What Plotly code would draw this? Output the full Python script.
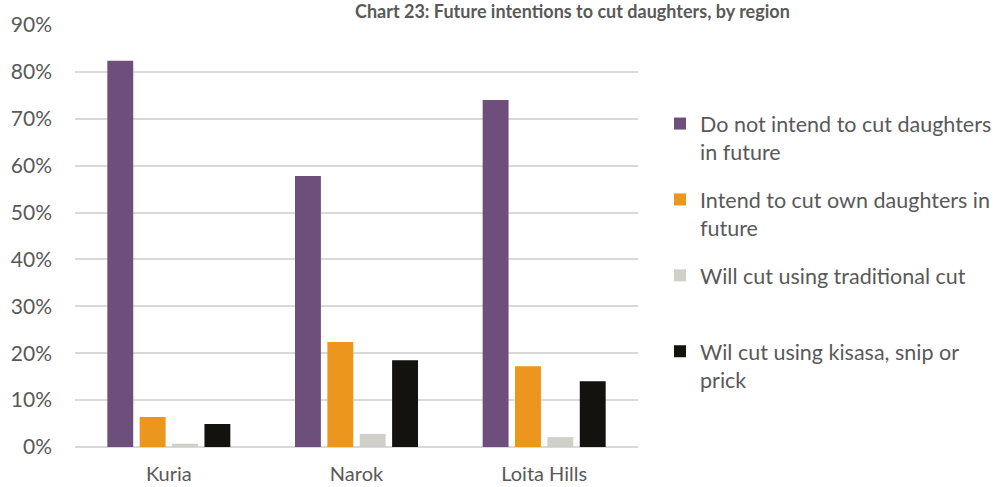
import plotly.graph_objects as go

regions = ["Kuria", "Narok", "Loita Hills"]
series_names = [
    "Do not intend to cut daughters<br>in future",
    "Intend to cut own daughters in<br>future",
    "Will cut using traditional cut<br> ",
    "Wil cut using kisasa, snip or<br>prick",
]
do_not_intend = [0.824, 0.578, 0.740]
intend_own = [0.064, 0.224, 0.172]
traditional = [0.007, 0.028, 0.021]
kisasa = [0.049, 0.185, 0.140]
colors = ["#6E4E7A", "#EC961D", "#D0CFCA", "#13120E"]
y_ticks = [0, 0.1, 0.2, 0.3, 0.4, 0.5, 0.6, 0.7, 0.8, 0.9]
title_text = "Chart 23: Future intentions to cut daughters, by region"

fig = go.Figure()
for i, (name, vals, col) in enumerate(zip(series_names, [do_not_intend, intend_own, traditional, kisasa], colors)):
    fig.add_trace(go.Bar(x=regions, y=vals, name=name, legendgroup=f"g{i}",
                         marker=dict(color=col, line=dict(width=0))))

W, H = 1005, 487
mt, mb, ml, mr = 25, 40, 75, 367
fig.update_layout(
    width=W, height=H,
    margin=dict(t=mt, b=mb, l=ml, r=mr, autoexpand=False),
    paper_bgcolor="white", plot_bgcolor="white",
    barmode="group", bargap=0.31, bargroupgap=0.2,
    font=dict(family="Lato", color="#595959", size=21),
    yaxis=dict(range=[0, 0.9], tickvals=y_ticks, tickformat=".0%", showgrid=True,
               gridcolor="#D9D9D9", gridwidth=1.5, zeroline=True, zerolinecolor="#D9D9D9",
               zerolinewidth=1.5, ticks="", ticklabelstandoff=22, automargin=False,
               tickfont=dict(size=21), fixedrange=True),
    xaxis=dict(showline=False, ticks="", ticklabelstandoff=13, automargin=False,
               tickfont=dict(size=20), fixedrange=True),
    legend=dict(x=(660 - ml) / (W - ml - mr), xanchor="left", y=0.815, yanchor="top", xref="paper",
                font=dict(size=21.5, color="#595959"), valign="top",
                tracegroupgap=17, itemwidth=30, traceorder="grouped"),
    showlegend=True,
)
fig.add_annotation(text="<b>" + title_text + "</b>", xref="paper", yref="paper",
                   x=(572 - ml) / (W - ml - mr), y=1 + (mt - 11) / (H - mt - mb),
                   xanchor="center", yanchor="middle", showarrow=False,
                   font=dict(size=18, color="#595959", family="Lato"))
fig.write_html("out.html")
